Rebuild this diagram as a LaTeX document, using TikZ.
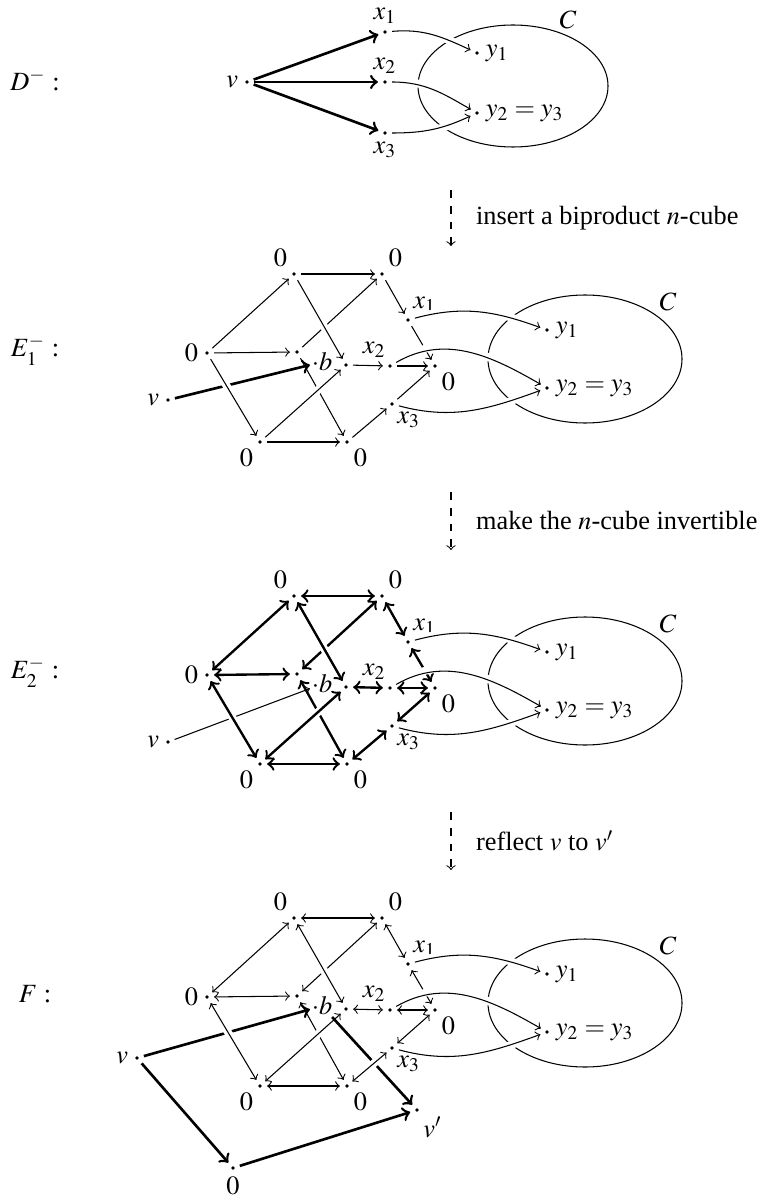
\documentclass[tikz,border=0pt]{standalone}
\usepackage{mathptmx}
\usepackage[no-math]{fontspec}
\setmainfont{Liberation Serif}

\tikzset{
  pt/.style={circle, fill, inner sep=0pt, minimum size=1.4pt, outer sep=2pt},
  every label/.style={inner sep=0.5pt},
  over/.style={preaction={draw=white, -, line width=3pt, shorten <=5pt, shorten >=5pt}},
  vthick/.style={->, line width=1pt, over},
  vthin/.style={->, over},
  cubeA/.style={->},
  cubeB/.style={<->, line width=0.9pt},
  cubeC/.style={<->},
  stage arrow/.style={->, dashed},
}

\begin{document}
\begin{tikzpicture}[x=0.38pt, y=-0.38pt]
    \useasboundingbox (0,0) rectangle (765,1200);

    % 名称
    \node (labD) at (35,80) {$D^-$ :};
    \node (labE) at (35,350) {$E_1^-$ :};
    \node (labF) at (35,672) {$E_2^-$ :};
    \node (labG) at (35,994) {$F$ :};

    % D^-
    \node[pt, label=left:$v$] (dv) at (247,82) {};
    \node[pt, label=above:$x_1$] (dx1) at (385,32) {};
    \node[pt, label=above:$x_2$] (dx2) at (385,82) {};
    \node[pt, label=below:$x_3$] (dx3) at (385,133) {};
    \node[pt, label=right:$y_1$] (dy1) at (477,53) {};
    \node[pt, label=right:{$y_2=y_3$}] (dy2) at (477,113) {};
    \draw (513,86) ellipse [x radius=95, y radius=61];
    \node (dC) at (568,20) {$C$};
    \foreach \i in {1,2,3}
        \draw[->, line width=1pt] (dv) -- (dx\i);
    \draw[->, over] (dx1) to[out=5, in=155] (dy1);
    \draw[->, over] (dx2) to[out=0, in=150] (dy2);
    \draw[->, over] (dx3) to[out=0, in=205] (dy2);

    % 步骤之间的虚线箭头
    \coordinate (s1) at (451,190);
    \coordinate (t1) at (451,246);
    \coordinate (s2) at (451,492);
    \coordinate (t2) at (451,550);
    \coordinate (s3) at (451,812);
    \coordinate (t3) at (451,870);
    \draw[stage arrow] (s1) -- (t1) node[midway, right=6pt] (m1) {insert a biproduct $n$-cube};
    \draw[stage arrow] (s2) -- (t2) node[midway, right=6pt] (m2) {make the $n$-cube invertible};
    \draw[stage arrow] (s3) -- (t3) node[midway, right=6pt] (m3) {reflect $v$ to $v'$};

    % 立方体的顶点和后面的边
    \foreach \p/\dy/\cs/\vx/\vy/\vs in {e/0/cubeA/168/400/vthick, f/322/cubeB/168/420/vthin, g/644/cubeC/137/414/vthick} {
            \node[pt, label=left:$0$] (\p L) at (207,{353+\dy}) {};
            \node[pt, label=135:$0$] (\p TL) at (294,{274+\dy}) {};
            \node[pt, label=45:$0$] (\p TR) at (382,{274+\dy}) {};
            \node[pt] (\p M) at (297,{352+\dy}) {};
            \node[pt] (\p C) at (346,{365+\dy}) {};
            \node[pt, label=-135:$0$] (\p BL) at (260,{442+\dy}) {};
            \node[pt, label=-45:$0$] (\p BR) at (347,{442+\dy}) {};
            \node[pt, label=60:$x_1$] (\p x1) at (408,{320+\dy}) {};
            \node[pt, label=110:$x_2$] (\p x2) at (390,{366+\dy}) {};
            \node[pt, label=-60:$x_3$] (\p x3) at (392,{404+\dy}) {};
            \node[pt, label=-45:$0$] (\p Z) at (435,{366+\dy}) {};
            \node[inner sep=0.5pt] (\p b) at (322,{362+\dy}) {$\cdot b$};
            \node[pt, label=left:$v$] (\p v) at (\vx,{\vy+\dy}) {};
            \draw[\cs] (\p L) -- (\p M);
            \draw[\cs] (\p M) -- (\p TR);
            \draw[\cs] (\p M) -- (\p BR);
            \draw[\vs] (\p v) -- (\p b);
        }

    % F: 反射 v 到 v'
    \node[pt, label=below:$0$] (g0) at (233,1168) {};
    \node[pt, label=-50:$v'$] (gw) at (417,1110) {};
    \draw[vthick] (gv) -- (g0);
    \draw[vthick] (g0) -- (gw);
    \draw[->, line width=1pt] (gb) -- (gw);

    % 前面的边和集合 C
    \foreach \p/\dy/\cs in {e/0/cubeA, f/322/cubeB, g/644/cubeC} {
            \draw[\cs] (\p L) -- (\p TL);
            \draw[\cs, over] (\p L) -- (\p BL);
            \draw[\cs] (\p TL) -- (\p TR);
            \draw[\cs, over] (\p TL) -- (\p C);
            \draw[\cs, over] (\p BL) -- (\p C);
            \draw[\cs] (\p BL) -- (\p BR);
            \draw[\cs] (\p TR) -- (\p x1);
            \draw[\cs] (\p C) -- (\p x2);
            \draw[\cs, over] (\p BR) -- (\p x3);
            \draw[\cs] (\p x1) -- (\p Z);
            \draw[\cs] (\p x2) -- (\p Z);
            \draw[\cs] (\p x3) -- (\p Z);
            \node[pt, label=right:$y_1$] (\p y1) at (547,{330+\dy}) {};
            \node[pt, label=right:{$y_2=y_3$}] (\p y2) at (547,{388+\dy}) {};
            \draw (585,{359+\dy}) ellipse [x radius=97, y radius=64];
            \node (\p CC) at (668,{302+\dy}) {$C$};
            \draw[->, over] (\p x1) to[out=15, in=160] (\p y1);
            \draw[->, over] (\p x2) to[out=30, in=150] (\p y2);
            \draw[->, over] (\p x3) to[out=-15, in=200] (\p y2);
        }
\end{tikzpicture}
\end{document}
